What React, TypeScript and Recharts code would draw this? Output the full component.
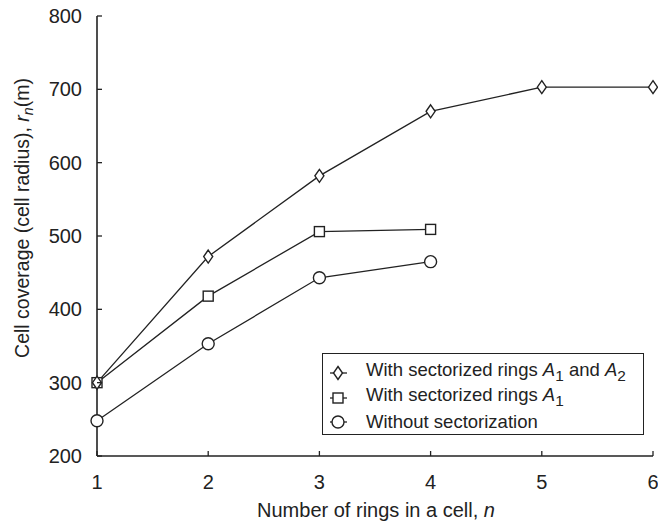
import React from "react";
import { Line, LineChart, XAxis, YAxis } from "recharts";

const rings = [1, 2, 3, 4, 5, 6];
const sectorizedA1A2 = [300, 472, 582, 670, 703, 703];
const sectorizedA1 = [300, 418, 506, 509];
const noSectorization = [248, 353, 443, 465];
const xTicks = [1, 2, 3, 4, 5, 6];
const yTicks = [200, 300, 400, 500, 600, 700, 800];

const data = rings.map((n, i) => ({
  n,
  a1a2: sectorizedA1A2[i],
  a1: sectorizedA1[i],
  none: noSectorization[i]
}));

const INK = "#222";
const FONT = "'Liberation Sans', Arial, sans-serif";

type MarkProps = { cx?: number; cy?: number };

function Diamond({ cx, cy }: MarkProps) {
  if (cx == null || cy == null) return null;
  return (
    <path
      d={`M${cx},${cy - 6.5}L${cx + 4.5},${cy}L${cx},${cy + 6.5}L${cx - 4.5},${cy}Z`}
      fill="#fff"
      stroke={INK}
      strokeWidth={1.4}
    />
  );
}

function Square({ cx, cy }: MarkProps) {
  if (cx == null || cy == null) return null;
  return <rect x={cx - 5} y={cy - 5} width={10} height={10} fill="#fff" stroke={INK} strokeWidth={1.4} />;
}

function Circle({ cx, cy }: MarkProps) {
  if (cx == null || cy == null) return null;
  return <circle cx={cx} cy={cy} r={6} fill="#fff" stroke={INK} strokeWidth={1.4} />;
}

const tickText = { fontSize: 20, fill: INK, fontFamily: FONT };

function BottomTick({ x, y, payload }: any) {
  return (
    <g>
      <line x1={x} y1={y} x2={x} y2={y - 5} stroke={INK} strokeWidth={1.3} />
      <text x={x} y={y + 33} textAnchor="middle" {...tickText}>
        {payload.value}
      </text>
    </g>
  );
}

function TopTick({ x, y }: any) {
  return <line x1={x} y1={y} x2={x} y2={y + 5} stroke={INK} strokeWidth={1.3} />;
}

function LeftTick({ x, y, payload }: any) {
  return (
    <g>
      <line x1={x} y1={y} x2={x + 5} y2={y} stroke={INK} strokeWidth={1.3} />
      <text x={x - 15} y={y + 7} textAnchor="end" {...tickText}>
        {payload.value}
      </text>
    </g>
  );
}

function RightTick({ x, y }: any) {
  return <line x1={x} y1={y} x2={x - 5} y2={y} stroke={INK} strokeWidth={1.3} />;
}

const legendItems = [
  { key: "a1a2", Mark: Diamond, label: <>With sectorized rings <i>A</i><sub>1</sub> and <i>A</i><sub>2</sub></> },
  { key: "a1", Mark: Square, label: <>With sectorized rings <i>A</i><sub>1</sub></> },
  { key: "none", Mark: Circle, label: <>Without sectorization</> }
];

export default function App() {
  return (
    <div style={{ position: "absolute", left: 0, top: 0, width: 658, height: 524, background: "#fff", fontFamily: FONT }}>
      <LineChart width={658} height={524} data={data} margin={{ top: 16, right: 5, bottom: 38, left: 37 }}>
        <XAxis
          dataKey="n"
          type="number"
          domain={[1, 6]}
          ticks={xTicks}
          height={30}
          tickSize={0}
          tickMargin={0}
          axisLine={{ stroke: INK, strokeWidth: 1.6 }}
          tick={BottomTick}
          label={{
            content: () => (
              <text x={376} y={517} textAnchor="middle" fontSize={20} fill={INK} fontFamily={FONT}>
                Number of rings in a cell, <tspan fontStyle="italic">n</tspan>
              </text>
            )
          }}
        />
        <XAxis
          xAxisId="top"
          orientation="top"
          dataKey="n"
          type="number"
          domain={[1, 6]}
          ticks={xTicks}
          height={0}
          tickSize={0}
          axisLine={{ stroke: INK, strokeWidth: 1.6 }}
          tick={TopTick}
        />
        <YAxis
          type="number"
          domain={[200, 800]}
          ticks={yTicks}
          width={60}
          tickSize={0}
          tickMargin={0}
          axisLine={{ stroke: INK, strokeWidth: 1.6 }}
          tick={LeftTick}
          label={{
            content: () => (
              <text transform="rotate(-90)" x={-218} y={29} textAnchor="middle" fontSize={19.5} fill={INK} fontFamily={FONT}>
                Cell coverage (cell radius), <tspan fontStyle="italic">r</tspan>
                <tspan fontStyle="italic" fontSize={14} dy={4}>n</tspan>
                <tspan dy={-4}>(m)</tspan>
              </text>
            )
          }}
        />
        <YAxis
          yAxisId="right"
          orientation="right"
          type="number"
          domain={[200, 800]}
          ticks={yTicks}
          width={0}
          tickSize={0}
          axisLine={{ stroke: INK, strokeWidth: 1.6 }}
          tick={RightTick}
        />
        <Line dataKey="none" stroke={INK} strokeWidth={1.3} dot={<Circle />} isAnimationActive={false} />
        <Line dataKey="a1" stroke={INK} strokeWidth={1.3} dot={<Square />} isAnimationActive={false} />
        <Line dataKey="a1a2" stroke={INK} strokeWidth={1.3} dot={<Diamond />} isAnimationActive={false} />
      </LineChart>
      <div
        style={{
          position: "absolute",
          left: 322,
          top: 353,
          width: 322,
          height: 82,
          border: `1.5px solid ${INK}`,
          boxSizing: "border-box",
          padding: "7px 0 0 1px",
          fontSize: 18.5,
          color: INK,
          lineHeight: "24px"
        }}
      >
        {legendItems.map(({ key, Mark, label }) => (
          <div key={key} style={{ display: "flex", alignItems: "center", height: 24.5 }}>
            <svg width={30} height={20} style={{ flex: "none" }}>
              <line x1={6} y1={10} x2={23} y2={10} stroke={INK} strokeWidth={1.3} />
              <Mark cx={14} cy={10} />
            </svg>
            <span style={{ marginLeft: 12, whiteSpace: "nowrap" }}>
              {label}
            </span>
          </div>
        ))}
      </div>
    </div>
  );
}
